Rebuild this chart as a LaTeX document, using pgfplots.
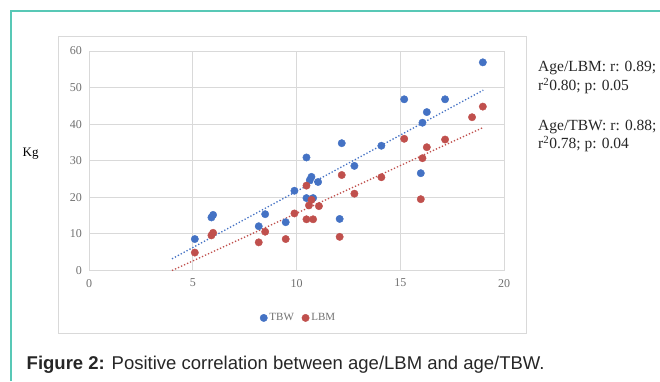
\documentclass[border=0pt]{standalone}
\usepackage{pgfplots}
\pgfplotsset{compat=1.18}
\usepackage{fontspec}
\setmainfont{Liberation Serif}
\newfontfamily\arial{Liberation Sans}
\definecolor{tbw}{RGB}{68,114,196}
\definecolor{lbm}{RGB}{192,80,77}
\definecolor{gridc}{RGB}{217,217,217}
\definecolor{tickc}{RGB}{112,112,112}
\definecolor{teal}{RGB}{88,200,182}
\pgfplotstableread{
x y
5.10 8.6
5.90 14.5
5.98 15.2
8.18 12.1
8.49 15.4
9.48 13.2
9.90 21.8
10.48 30.9
10.64 24.7
10.72 25.6
10.48 19.8
10.80 19.8
11.04 24.2
12.08 14.1
12.18 34.8
12.79 28.6
14.09 34.1
15.19 46.8
15.99 26.6
16.07 40.4
16.28 43.3
17.16 46.8
18.98 56.9
}\tbwdata
\pgfplotstableread{
x y
5.10 4.9
5.90 9.6
5.98 10.3
8.18 7.7
8.49 10.6
9.48 8.6
9.90 15.6
10.48 23.2
10.48 14.0
10.80 14.0
10.60 17.8
10.72 19.3
11.08 17.6
12.08 9.2
12.18 26.1
12.79 21.0
14.09 25.5
15.19 36.0
15.99 19.5
16.07 30.7
16.28 33.7
17.16 35.8
18.46 41.9
18.98 44.8
}\lbmdata
\begin{document}
\begin{tikzpicture}
\useasboundingbox (0,0) rectangle (660pt,-381pt);
\draw[teal, line width=1.6pt] (11pt,-381pt) -- (11pt,-11pt) -- (660pt,-11pt);
\draw[gridc, line width=1pt] (58pt,-36pt) rectangle (526pt,-333pt);
\begin{axis}[
  at={(89pt,-270.5pt)}, anchor=south west,
  scale only axis, width=415pt, height=219.5pt,
  xmin=0, xmax=20, ymin=0, ymax=60,
  xtick={0,5,...,20}, ytick={0,10,...,60},
  grid=major, major grid style={gridc, line width=0.9pt},
  axis line style={draw=none},
  major tick length=0pt,
  tick label style={font=\fontsize{12}{14}\selectfont, text=tickc},
  /pgf/number format/assume math mode=true,
  xticklabel style={yshift=-5pt},
  yticklabel style={xshift=-3.5pt},
  clip=false,
  legend style={at={(0.505,-0.216)}, anchor=center, draw=none, fill=none,
    font=\fontsize{11}{13}\selectfont, text=tickc,
    /tikz/every even column/.append style={column sep=6pt}},
  legend columns=2,
  legend image code/.code={\draw[mark repeat=2,mark phase=2] plot coordinates {(0cm,0cm) (0.15cm,0cm) (0.3cm,0cm)};},
]
\addplot[tbw, dotted, line width=1.3pt, forget plot] coordinates {(4,3.2) (19,49.3)};
\addplot[lbm, dotted, line width=1.3pt, forget plot] coordinates {(4,0) (19,39.1)};
\addplot[only marks, mark=*, mark size=3.7pt, color=tbw, mark options={draw=tbw, fill=tbw}] table {\tbwdata};
\addlegendentry{TBW}
\addplot[only marks, mark=*, mark size=3.7pt, color=lbm, mark options={draw=lbm, fill=lbm}] table {\lbmdata};
\addlegendentry{LBM}
\end{axis}
\node[anchor=base west, inner sep=0pt, font=\fontsize{13}{15}\selectfont] at (22.5pt,-156pt) {Kg};
\begin{scope}[every node/.style={anchor=base west, inner sep=0pt, font=\fontsize{15.5}{18}\selectfont, text={black!85}}]
\node at (538pt,-71.7pt) {Age/LBM: r: 0.89;};
\node at (538pt,-90.5pt) {r\textsuperscript{2}0.80; p: 0.05};
\node at (538pt,-130pt) {Age/TBW: r: 0.88;};
\node at (538pt,-148.5pt) {r\textsuperscript{2}0.78; p: 0.04};
\end{scope}
\node[anchor=base west, inner sep=0pt, font=\arial\fontsize{18.5}{20}\selectfont, text={black!85}] at (26.5pt,-369.5pt) {\textbf{Figure 2:} Positive correlation between age/LBM and age/TBW.};
\end{tikzpicture}
\end{document}
